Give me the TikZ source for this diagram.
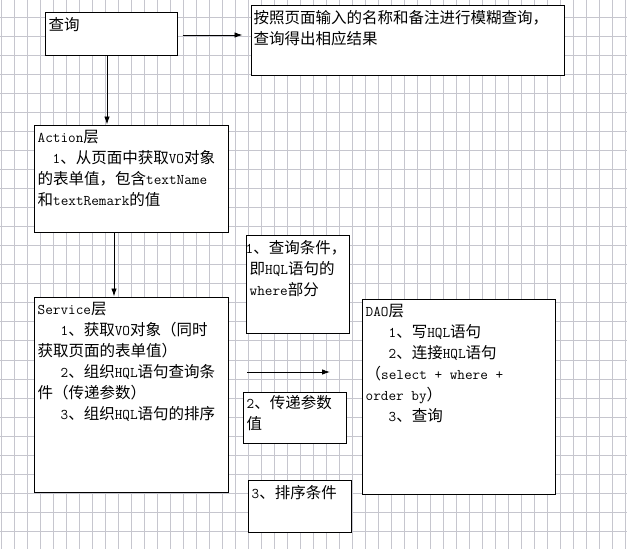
\documentclass[tikz,border=0pt]{standalone}
\usepackage{fontspec}
\setmainfont{Noto Sans CJK SC}
\usetikzlibrary{arrows.meta}
\definecolor{gridgray}{RGB}{198,198,206}
\newcommand{\en}[1]{{\ttfamily\fontsize{14.8}{21}\selectfont #1}}

\begin{document}
\begin{tikzpicture}[x=1pt, y=-1pt, >={Latex[length=8pt,width=5.5pt]},
  box/.style={draw, line width=1pt, fill=white, inner sep=0pt},
  txt/.style={anchor=north west, inner sep=0pt, align=left, xshift=4pt, yshift=-6pt, font=\fontsize{15.5}{21}\selectfont},
  arr/.style={->, line width=0.9pt}]
  \useasboundingbox (0,0) rectangle (627,549);
  \fill[white] (0,0) rectangle (627,549);
  % background grid
  \foreach \gx in {0,...,48} \draw[gridgray, line width=0.8pt] (1.5+13*\gx,0) -- (1.5+13*\gx,549);
  \foreach \gy in {0,...,27} \draw[gridgray, line width=0.8pt] (0,17+19.05*\gy) -- (627,17+19.05*\gy);
  % boxes
  \node[box, minimum width=132pt, minimum height=43pt, label={[txt]north west:{查询}}] (q) at (111,33.5) {};
  \node[box, minimum width=313pt, minimum height=70pt, label={[txt, xshift=-1pt]north west:{按照页面输入的名称和备注进行模糊查询，\\查询得出相应结果}}] (r) at (407.5,40) {};
  \node[box, minimum width=194pt, minimum height=107pt, label={[txt]north west:{\en{Action}层\\\hspace*{15pt}\en{1}、从页面中获取\en{VO}对象\\的表单值，包含\en{textName}\\和\en{textRemark}的值}}] (a) at (131,178.5) {};
  \node[box, minimum width=194pt, minimum height=195pt, label={[txt]north west:{\en{Service}层\\\hspace*{23pt}\en{1}、获取\en{VO}对象（同时\\获取页面的表单值）\\\hspace*{23pt}\en{2}、组织\en{HQL}语句查询条\\件（传递参数）\\\hspace*{23pt}\en{3}、组织\en{HQL}语句的排序}}] (s) at (131,394.5) {};
  \node[box, minimum width=103pt, minimum height=98pt, label={[txt]north west:{\hspace*{-4pt}\en{1}、查询条件，\\即\en{HQL}语句的\\\en{where}部分}}] (c1) at (297.5,284) {};
  \node[box, minimum width=103pt, minimum height=51pt, label={[txt, yshift=2pt]north west:{\en{2}、传递参数\\值}}] (c2) at (294.5,417.5) {};
  \node[box, minimum width=103pt, minimum height=52pt, label={[txt]north west:{\en{3}、排序条件}}] (c3) at (299.5,506) {};
  \node[box, minimum width=193pt, minimum height=195pt, label={[txt]north west:{\en{DAO}层\\\hspace*{23pt}\en{1}、写\en{HQL}语句\\\hspace*{23pt}\en{2}、连接\en{HQL}语句\\（\en{select + where +}\\\en{order by}）\\\hspace*{23pt}\en{3}、查询}}] (d) at (458.5,396.5) {};
  % arrows
  \draw[arr] ([xshift=5pt,yshift=-1.5pt]q.east) -- ([xshift=-8pt,yshift=5pt]r.west);
  \draw[arr] ([xshift=-4pt]q.south) -- ([xshift=-24pt]a.north);
  \draw[arr] ([xshift=-17pt]a.south) -- ([xshift=-17pt]s.north);
  \coordinate (m1) at (247,372); \coordinate (m2) at (330,372);
  \draw[arr] (m1) -- (m2);
\end{tikzpicture}
\end{document}
